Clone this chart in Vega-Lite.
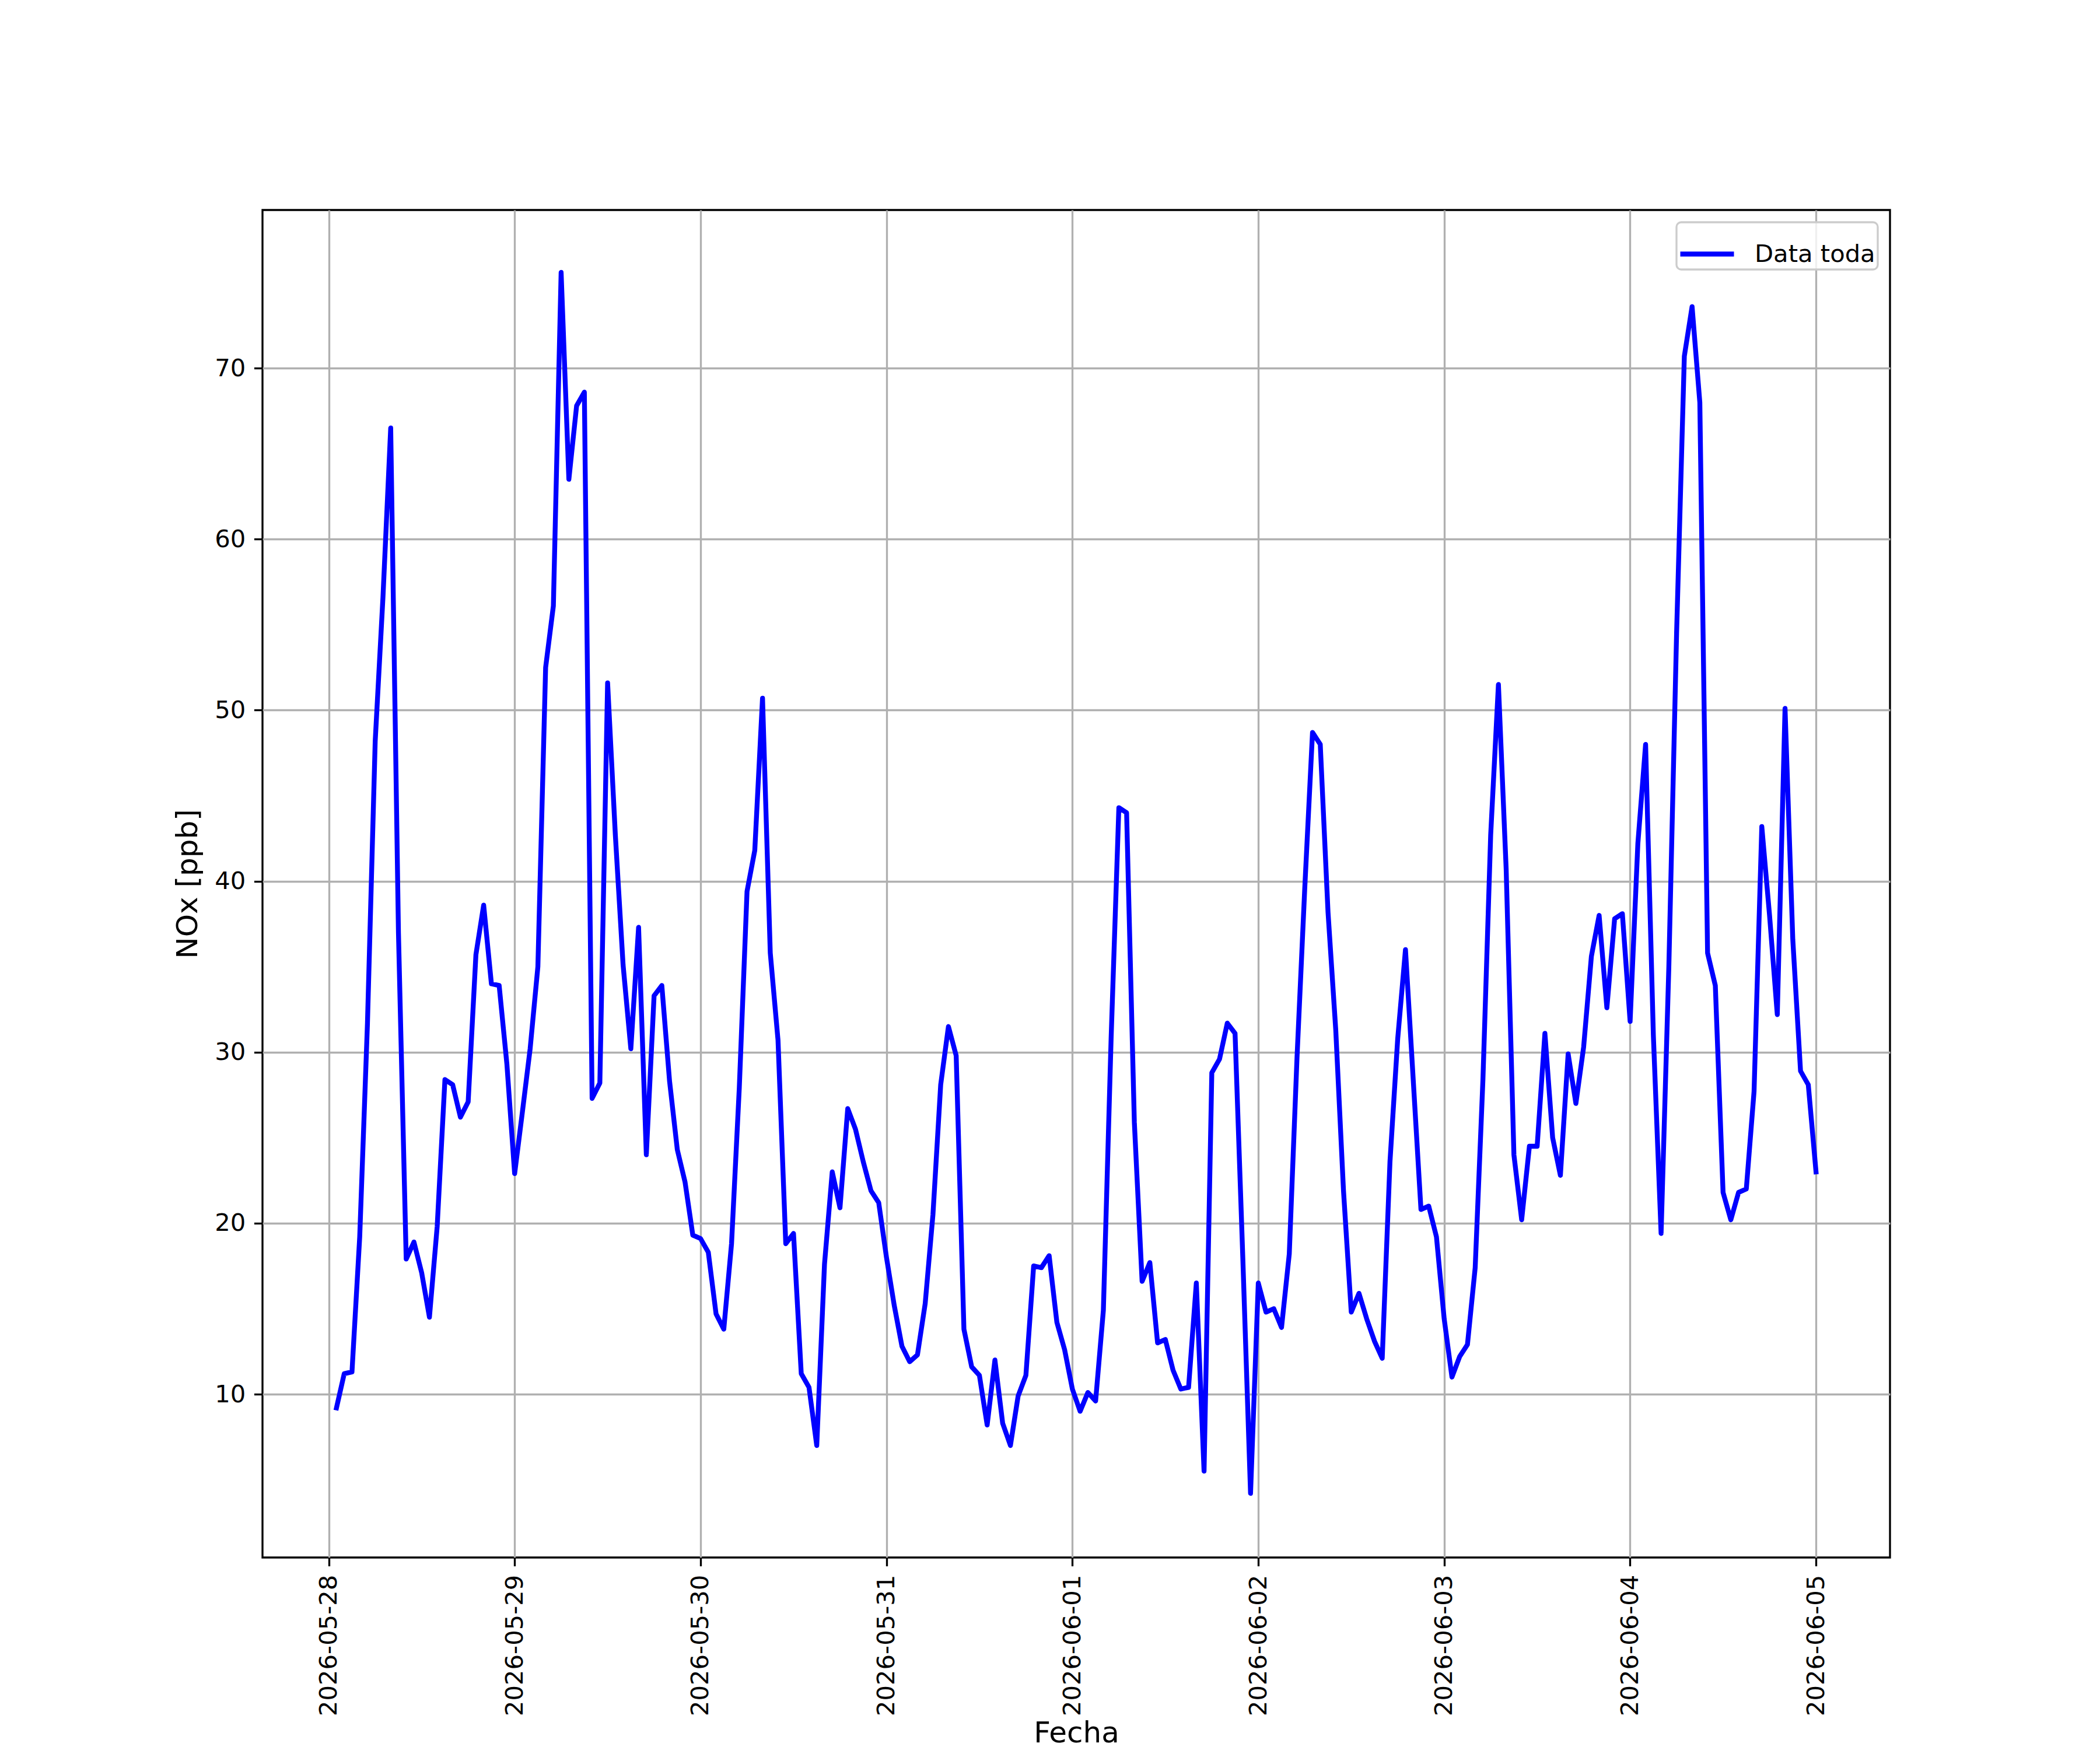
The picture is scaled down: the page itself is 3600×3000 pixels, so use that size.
{
  "$schema": "https://vega.github.io/schema/vega-lite/v6.json",
  "width": 2790,
  "height": 2310,
  "autosize": {"type": "none"},
  "padding": {"left": 450, "top": 360, "right": 360, "bottom": 330},
  "background": "white",
  "data": {
    "values": [
      {"fecha": "2026-05-28T01:00", "nox": 9.2}, {"fecha": "2026-05-28T02:00", "nox": 11.2}, {"fecha": "2026-05-28T03:00", "nox": 11.3}, {"fecha": "2026-05-28T04:00", "nox": 19.2},
      {"fecha": "2026-05-28T05:00", "nox": 31.7}, {"fecha": "2026-05-28T06:00", "nox": 48.2}, {"fecha": "2026-05-28T07:00", "nox": 56.6}, {"fecha": "2026-05-28T08:00", "nox": 66.5},
      {"fecha": "2026-05-28T09:00", "nox": 37.0}, {"fecha": "2026-05-28T10:00", "nox": 17.9}, {"fecha": "2026-05-28T11:00", "nox": 18.9}, {"fecha": "2026-05-28T12:00", "nox": 17.1},
      {"fecha": "2026-05-28T13:00", "nox": 14.5}, {"fecha": "2026-05-28T14:00", "nox": 19.8}, {"fecha": "2026-05-28T15:00", "nox": 28.4}, {"fecha": "2026-05-28T16:00", "nox": 28.1},
      {"fecha": "2026-05-28T17:00", "nox": 26.2}, {"fecha": "2026-05-28T18:00", "nox": 27.1}, {"fecha": "2026-05-28T19:00", "nox": 35.7}, {"fecha": "2026-05-28T20:00", "nox": 38.6},
      {"fecha": "2026-05-28T21:00", "nox": 34.0}, {"fecha": "2026-05-28T22:00", "nox": 33.9}, {"fecha": "2026-05-28T23:00", "nox": 29.3}, {"fecha": "2026-05-29T00:00", "nox": 22.9},
      {"fecha": "2026-05-29T01:00", "nox": 26.5}, {"fecha": "2026-05-29T02:00", "nox": 30.2}, {"fecha": "2026-05-29T03:00", "nox": 35.0}, {"fecha": "2026-05-29T04:00", "nox": 52.5},
      {"fecha": "2026-05-29T05:00", "nox": 56.1}, {"fecha": "2026-05-29T06:00", "nox": 75.6}, {"fecha": "2026-05-29T07:00", "nox": 63.5}, {"fecha": "2026-05-29T08:00", "nox": 67.8},
      {"fecha": "2026-05-29T09:00", "nox": 68.6}, {"fecha": "2026-05-29T10:00", "nox": 27.3}, {"fecha": "2026-05-29T11:00", "nox": 28.2}, {"fecha": "2026-05-29T12:00", "nox": 51.6},
      {"fecha": "2026-05-29T13:00", "nox": 42.7}, {"fecha": "2026-05-29T14:00", "nox": 35.1}, {"fecha": "2026-05-29T15:00", "nox": 30.2}, {"fecha": "2026-05-29T16:00", "nox": 37.3},
      {"fecha": "2026-05-29T17:00", "nox": 24.0}, {"fecha": "2026-05-29T18:00", "nox": 33.3}, {"fecha": "2026-05-29T19:00", "nox": 33.9}, {"fecha": "2026-05-29T20:00", "nox": 28.3},
      {"fecha": "2026-05-29T21:00", "nox": 24.3}, {"fecha": "2026-05-29T22:00", "nox": 22.4}, {"fecha": "2026-05-29T23:00", "nox": 19.3}, {"fecha": "2026-05-30T00:00", "nox": 19.1},
      {"fecha": "2026-05-30T01:00", "nox": 18.3}, {"fecha": "2026-05-30T02:00", "nox": 14.7}, {"fecha": "2026-05-30T03:00", "nox": 13.8}, {"fecha": "2026-05-30T04:00", "nox": 18.8},
      {"fecha": "2026-05-30T05:00", "nox": 27.9}, {"fecha": "2026-05-30T06:00", "nox": 39.4}, {"fecha": "2026-05-30T07:00", "nox": 41.8}, {"fecha": "2026-05-30T08:00", "nox": 50.7},
      {"fecha": "2026-05-30T09:00", "nox": 35.8}, {"fecha": "2026-05-30T10:00", "nox": 30.7}, {"fecha": "2026-05-30T11:00", "nox": 18.8}, {"fecha": "2026-05-30T12:00", "nox": 19.4},
      {"fecha": "2026-05-30T13:00", "nox": 11.2}, {"fecha": "2026-05-30T14:00", "nox": 10.4}, {"fecha": "2026-05-30T15:00", "nox": 7.0}, {"fecha": "2026-05-30T16:00", "nox": 17.6},
      {"fecha": "2026-05-30T17:00", "nox": 23.0}, {"fecha": "2026-05-30T18:00", "nox": 20.9}, {"fecha": "2026-05-30T19:00", "nox": 26.7}, {"fecha": "2026-05-30T20:00", "nox": 25.5},
      {"fecha": "2026-05-30T21:00", "nox": 23.6}, {"fecha": "2026-05-30T22:00", "nox": 21.9}, {"fecha": "2026-05-30T23:00", "nox": 21.2}, {"fecha": "2026-05-31T00:00", "nox": 18.0},
      {"fecha": "2026-05-31T01:00", "nox": 15.2}, {"fecha": "2026-05-31T02:00", "nox": 12.8}, {"fecha": "2026-05-31T03:00", "nox": 11.9}, {"fecha": "2026-05-31T04:00", "nox": 12.3},
      {"fecha": "2026-05-31T05:00", "nox": 15.3}, {"fecha": "2026-05-31T06:00", "nox": 20.5}, {"fecha": "2026-05-31T07:00", "nox": 28.1}, {"fecha": "2026-05-31T08:00", "nox": 31.5},
      {"fecha": "2026-05-31T09:00", "nox": 29.8}, {"fecha": "2026-05-31T10:00", "nox": 13.8}, {"fecha": "2026-05-31T11:00", "nox": 11.6}, {"fecha": "2026-05-31T12:00", "nox": 11.1},
      {"fecha": "2026-05-31T13:00", "nox": 8.2}, {"fecha": "2026-05-31T14:00", "nox": 12.0}, {"fecha": "2026-05-31T15:00", "nox": 8.3}, {"fecha": "2026-05-31T16:00", "nox": 7.0},
      {"fecha": "2026-05-31T17:00", "nox": 9.9}, {"fecha": "2026-05-31T18:00", "nox": 11.1}, {"fecha": "2026-05-31T19:00", "nox": 17.5}, {"fecha": "2026-05-31T20:00", "nox": 17.4},
      {"fecha": "2026-05-31T21:00", "nox": 18.1}, {"fecha": "2026-05-31T22:00", "nox": 14.2}, {"fecha": "2026-05-31T23:00", "nox": 12.6}, {"fecha": "2026-06-01T00:00", "nox": 10.3},
      {"fecha": "2026-06-01T01:00", "nox": 9.0}, {"fecha": "2026-06-01T02:00", "nox": 10.1}, {"fecha": "2026-06-01T03:00", "nox": 9.6}, {"fecha": "2026-06-01T04:00", "nox": 14.9},
      {"fecha": "2026-06-01T05:00", "nox": 30.8}, {"fecha": "2026-06-01T06:00", "nox": 44.3}, {"fecha": "2026-06-01T07:00", "nox": 44.0}, {"fecha": "2026-06-01T08:00", "nox": 25.9},
      {"fecha": "2026-06-01T09:00", "nox": 16.6}, {"fecha": "2026-06-01T10:00", "nox": 17.7}, {"fecha": "2026-06-01T11:00", "nox": 13.0}, {"fecha": "2026-06-01T12:00", "nox": 13.2},
      {"fecha": "2026-06-01T13:00", "nox": 11.4}, {"fecha": "2026-06-01T14:00", "nox": 10.3}, {"fecha": "2026-06-01T15:00", "nox": 10.4}, {"fecha": "2026-06-01T16:00", "nox": 16.5},
      {"fecha": "2026-06-01T17:00", "nox": 5.5}, {"fecha": "2026-06-01T18:00", "nox": 28.8}, {"fecha": "2026-06-01T19:00", "nox": 29.6}, {"fecha": "2026-06-01T20:00", "nox": 31.7},
      {"fecha": "2026-06-01T21:00", "nox": 31.1}, {"fecha": "2026-06-01T22:00", "nox": 18.0}, {"fecha": "2026-06-01T23:00", "nox": 4.2}, {"fecha": "2026-06-02T00:00", "nox": 16.5},
      {"fecha": "2026-06-02T01:00", "nox": 14.8}, {"fecha": "2026-06-02T02:00", "nox": 15.0}, {"fecha": "2026-06-02T03:00", "nox": 13.9}, {"fecha": "2026-06-02T04:00", "nox": 18.2},
      {"fecha": "2026-06-02T05:00", "nox": 29.7}, {"fecha": "2026-06-02T06:00", "nox": 39.6}, {"fecha": "2026-06-02T07:00", "nox": 48.7}, {"fecha": "2026-06-02T08:00", "nox": 48.0},
      {"fecha": "2026-06-02T09:00", "nox": 38.2}, {"fecha": "2026-06-02T10:00", "nox": 31.3}, {"fecha": "2026-06-02T11:00", "nox": 21.9}, {"fecha": "2026-06-02T12:00", "nox": 14.8},
      {"fecha": "2026-06-02T13:00", "nox": 15.9}, {"fecha": "2026-06-02T14:00", "nox": 14.4}, {"fecha": "2026-06-02T15:00", "nox": 13.1}, {"fecha": "2026-06-02T16:00", "nox": 12.1},
      {"fecha": "2026-06-02T17:00", "nox": 23.6}, {"fecha": "2026-06-02T18:00", "nox": 30.8}, {"fecha": "2026-06-02T19:00", "nox": 36.0}, {"fecha": "2026-06-02T20:00", "nox": 28.4},
      {"fecha": "2026-06-02T21:00", "nox": 20.8}, {"fecha": "2026-06-02T22:00", "nox": 21.0}, {"fecha": "2026-06-02T23:00", "nox": 19.2}, {"fecha": "2026-06-03T00:00", "nox": 14.4},
      {"fecha": "2026-06-03T01:00", "nox": 11.0}, {"fecha": "2026-06-03T02:00", "nox": 12.2}, {"fecha": "2026-06-03T03:00", "nox": 12.9}, {"fecha": "2026-06-03T04:00", "nox": 17.4},
      {"fecha": "2026-06-03T05:00", "nox": 28.4}, {"fecha": "2026-06-03T06:00", "nox": 42.7}, {"fecha": "2026-06-03T07:00", "nox": 51.5}, {"fecha": "2026-06-03T08:00", "nox": 40.7},
      {"fecha": "2026-06-03T09:00", "nox": 24.0}, {"fecha": "2026-06-03T10:00", "nox": 20.2}, {"fecha": "2026-06-03T11:00", "nox": 24.5}, {"fecha": "2026-06-03T12:00", "nox": 24.5},
      {"fecha": "2026-06-03T13:00", "nox": 31.1}, {"fecha": "2026-06-03T14:00", "nox": 25.0}, {"fecha": "2026-06-03T15:00", "nox": 22.8}, {"fecha": "2026-06-03T16:00", "nox": 29.9},
      {"fecha": "2026-06-03T17:00", "nox": 27.0}, {"fecha": "2026-06-03T18:00", "nox": 30.3}, {"fecha": "2026-06-03T19:00", "nox": 35.6}, {"fecha": "2026-06-03T20:00", "nox": 38.0},
      {"fecha": "2026-06-03T21:00", "nox": 32.6}, {"fecha": "2026-06-03T22:00", "nox": 37.8}, {"fecha": "2026-06-03T23:00", "nox": 38.1}, {"fecha": "2026-06-04T00:00", "nox": 31.8},
      {"fecha": "2026-06-04T01:00", "nox": 42.2}, {"fecha": "2026-06-04T02:00", "nox": 48.0}, {"fecha": "2026-06-04T03:00", "nox": 31.0}, {"fecha": "2026-06-04T04:00", "nox": 19.4},
      {"fecha": "2026-06-04T05:00", "nox": 35.0}, {"fecha": "2026-06-04T06:00", "nox": 54.5}, {"fecha": "2026-06-04T07:00", "nox": 70.7}, {"fecha": "2026-06-04T08:00", "nox": 73.6},
      {"fecha": "2026-06-04T09:00", "nox": 68.0}, {"fecha": "2026-06-04T10:00", "nox": 35.8}, {"fecha": "2026-06-04T11:00", "nox": 33.9}, {"fecha": "2026-06-04T12:00", "nox": 21.8},
      {"fecha": "2026-06-04T13:00", "nox": 20.2}, {"fecha": "2026-06-04T14:00", "nox": 21.8}, {"fecha": "2026-06-04T15:00", "nox": 22.0}, {"fecha": "2026-06-04T16:00", "nox": 27.7},
      {"fecha": "2026-06-04T17:00", "nox": 43.2}, {"fecha": "2026-06-04T18:00", "nox": 38.0}, {"fecha": "2026-06-04T19:00", "nox": 32.2}, {"fecha": "2026-06-04T20:00", "nox": 50.1},
      {"fecha": "2026-06-04T21:00", "nox": 36.6}, {"fecha": "2026-06-04T22:00", "nox": 28.9}, {"fecha": "2026-06-04T23:00", "nox": 28.1}, {"fecha": "2026-06-05T00:00", "nox": 23.0}
    ]
  },
  "mark": {"type": "line", "strokeWidth": 8.33, "strokeJoin": "round", "strokeCap": "square", "clip": true},
  "encoding": {
    "x": {
      "field": "fecha",
      "type": "temporal",
      "title": "Fecha",
      "scale": {
        "domain": [
          {"year": 2026, "month": 5, "date": 27, "hours": 15, "minutes": 27},
          {"year": 2026, "month": 6, "date": 5, "hours": 9, "minutes": 33}
        ],
        "nice": false
      },
      "axis": {
        "values": [
          {"year": 2026, "month": 5, "date": 28},
          {"year": 2026, "month": 5, "date": 29},
          {"year": 2026, "month": 5, "date": 30},
          {"year": 2026, "month": 5, "date": 31},
          {"year": 2026, "month": 6, "date": 1},
          {"year": 2026, "month": 6, "date": 2},
          {"year": 2026, "month": 6, "date": 3},
          {"year": 2026, "month": 6, "date": 4},
          {"year": 2026, "month": 6, "date": 5}
        ],
        "format": "%Y-%m-%d",
        "labelAngle": 270,
        "titlePadding": 76
      }
    },
    "y": {
      "field": "nox",
      "type": "quantitative",
      "title": "NOx [ppb]",
      "scale": {"domain": [0.45, 79.25], "nice": false, "zero": false},
      "axis": {"values": [10, 20, 30, 40, 50, 60, 70], "titlePadding": 20}
    },
    "color": {
      "datum": "Data toda",
      "scale": {"range": ["#0000ff"]},
      "legend": {
        "title": null,
        "orient": "top-right",
        "offset": 21,
        "symbolType": "stroke",
        "symbolSize": 8464,
        "symbolStrokeWidth": 8.33,
        "symbolOffset": -2,
        "labelOffset": 31,
        "labelLimit": 0,
        "padding": 4,
        "cornerRadius": 8,
        "strokeColor": "#cccccc",
        "fillColor": "rgba(255,255,255,0.8)"
      }
    }
  },
  "config": {
    "font": "DejaVu Sans",
    "view": {"stroke": "black", "strokeWidth": 3.33},
    "axis": {
      "domain": false,
      "grid": true,
      "gridColor": "#b0b0b0",
      "gridWidth": 3.33,
      "gridOpacity": 1,
      "ticks": true,
      "tickColor": "black",
      "tickSize": 14.6,
      "tickWidth": 3.33,
      "labelFont": "DejaVu Sans",
      "labelFontSize": 41.7,
      "labelColor": "black",
      "labelPadding": 14.6,
      "labelLimit": 0,
      "labelFlush": false,
      "labelOverlap": false,
      "titleFont": "DejaVu Sans",
      "titleFontSize": 50,
      "titleFontWeight": "normal",
      "titleColor": "black"
    },
    "legend": {
      "labelFont": "DejaVu Sans",
      "labelFontSize": 41.7,
      "labelColor": "black",
      "strokeWidth": 3.33
    }
  }
}
